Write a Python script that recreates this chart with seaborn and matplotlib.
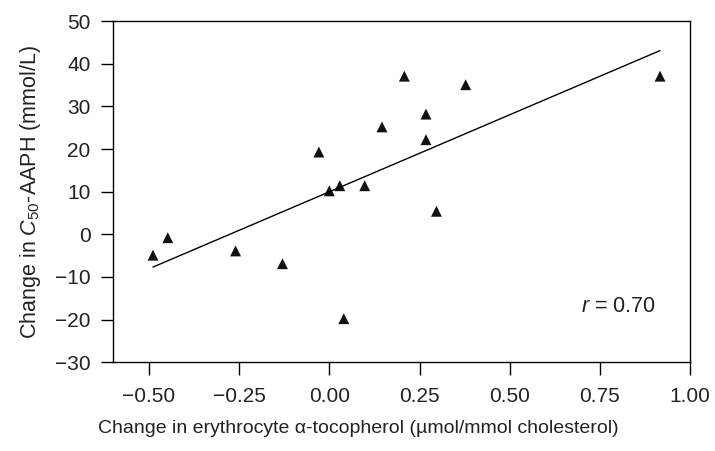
import matplotlib
matplotlib.use("Agg")
import matplotlib.pyplot as plt
import seaborn as sns
import pandas as pd

# Data
alpha_toc_change = [-0.489, -0.448, -0.26, -0.130, -0.029, 0.0, 0.029, 0.04,
                    0.098, 0.146, 0.208, 0.268, 0.268, 0.297, 0.378, 0.917]
c50_change = [-4.9, -0.8, -3.9, -6.9, 19.3, 10.2, 11.4, -19.8,
              11.4, 25.2, 37.1, 28.2, 22.2, 5.4, 35.1, 37.1]
x_ticks = [-0.50, -0.25, 0.00, 0.25, 0.50, 0.75, 1.00]
x_tick_labels = ["\u22120.50", "\u22120.25", "0.00", "0.25", "0.50", "0.75", "1.00"]
y_ticks = [-30, -20, -10, 0, 10, 20, 30, 40, 50]
y_tick_labels = ["\u221230", "\u221220", "\u221210", "0", "10", "20", "30", "40", "50"]

df = pd.DataFrame({"x": alpha_toc_change, "y": c50_change})

sns.set_style("ticks")
plt.rcParams["font.family"] = ["Liberation Sans", "DejaVu Sans"]
plt.rcParams["mathtext.fontset"] = "custom"
plt.rcParams["mathtext.rm"] = "Liberation Sans"
plt.rcParams["mathtext.it"] = "Liberation Sans:italic"

fig = plt.figure(figsize=(7.15, 4.51), dpi=100)
ax = fig.add_axes([0.158, 0.197, 0.807, 0.756])

sns.regplot(data=df, x="x", y="y", ax=ax, ci=None, truncate=True,
            marker="^", color="black",
            scatter_kws={"s": 62, "edgecolor": "none", "color": "#111111",
                         "alpha": 1.0},
            line_kws={"linewidth": 1.0, "color": "black"})

ax.set_xlim(-0.6, 1.0)
ax.set_ylim(-30, 50)
ax.set_xticks(x_ticks)
ax.set_xticklabels(x_tick_labels)
ax.set_yticks(y_ticks)
ax.set_yticklabels(y_tick_labels)
ax.tick_params(axis="both", direction="out", length=9, width=1.0,
               labelsize=15, colors="black", labelcolor="#222222")
ax.tick_params(axis="x", pad=9)
ax.tick_params(axis="y", pad=7)
for sp in ax.spines.values():
    sp.set_visible(True)
    sp.set_linewidth(1.0)
    sp.set_color("black")

ax.set_xlabel("Change in erythrocyte \u03b1-tocopherol (\u00b5mol/mmol cholesterol)",
              fontsize=14, color="#222222")
ax.xaxis.set_label_coords(0.425, -0.17)
ax.set_ylabel(r"Change in $\mathit{C}_{50}$-AAPH (mmol/L)",
              fontsize=15.5, color="#222222", labelpad=9)

ax.text(0.904, -17.0, r"$\mathit{r}$ = 0.70", fontsize=15.5, color="#222222",
        ha="right", va="center")

fig.savefig("out.png", dpi=100)
